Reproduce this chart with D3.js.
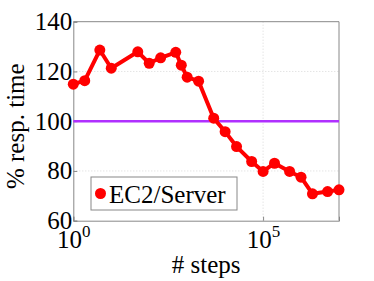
<!DOCTYPE html>
<html>
<head>
<meta charset="utf-8">
<script src="https://cdn.jsdelivr.net/npm/d3@7"></script>
<style>
  body { margin: 0; background: #fff; }
</style>
</head>
<body>
<script>
const steps = [1, 2, 5, 10, 50, 100, 200, 500, 700, 1000, 2000, 5000, 1e4, 2e4, 5e4, 1e5, 2e5, 5e5, 1e6, 2e6, 5e6, 1e7];
const respTime = [114.9, 116.3, 128.6, 121.3, 127.9, 123.3, 125.5, 127.7, 122.5, 117.7, 116.1, 101.2, 95.8, 89.8, 83.8, 79.8, 83.1, 79.8, 77.5, 70.8, 71.7, 72.4];
const baseline = 100;
const yTicks = [60, 80, 100, 120, 140];
const xTicks = [1, 1e5];
const xTickExp = ["0", "5"];
const seriesName = "EC2/Server";

const serif = "Liberation Serif";
const width = 374, height = 281;
const margin = {left: 73.3, right: 35, top: 21.7, bottom: 60.3};

const x = d3.scaleLog().domain([1, 1e7]).range([margin.left, width - margin.right]);
const y = d3.scaleLinear().domain([60, 140]).range([height - margin.bottom, margin.top]);

const svg = d3.select("body").append("svg")
  .attr("width", width)
  .attr("height", height);

// grid
svg.append("g").selectAll("line")
  .data(yTicks.slice(1, -1))
  .enter().append("line")
  .attr("x1", x.range()[0]).attr("x2", x.range()[1])
  .attr("y1", d => y(d)).attr("y2", d => y(d))
  .attr("stroke", "#d8d8d8").attr("stroke-dasharray", "1,2");

svg.append("g").selectAll("line")
  .data(xTicks.slice(1))
  .enter().append("line")
  .attr("x1", d => x(d)).attr("x2", d => x(d))
  .attr("y1", y.range()[0]).attr("y2", y.range()[1])
  .attr("stroke", "#d8d8d8").attr("stroke-dasharray", "1,2");

// axes
const yAxis = d3.axisLeft(y).tickValues(yTicks).tickSize(-4).tickPadding(3).tickFormat(d3.format("d"));
const gy = svg.append("g")
  .attr("transform", `translate(${margin.left},0)`)
  .call(yAxis)
  .attr("font-family", serif)
  .attr("font-size", 25);
gy.select(".domain").attr("stroke", "#888");
gy.selectAll(".tick line").attr("stroke", "#888");
gy.selectAll(".tick text").attr("x", -1);

const xAxis = d3.axisBottom(x).tickValues(xTicks).tickSize(-4).tickFormat("");
const gx = svg.append("g")
  .attr("transform", `translate(0,${height - margin.bottom})`)
  .call(xAxis)
  .attr("font-family", serif)
  .attr("font-size", 25);
gx.select(".domain").attr("stroke", "#888");
gx.selectAll(".tick line").attr("stroke", "#888");
gx.selectAll(".tick").append("text")
  .attr("y", 27)
  .attr("fill", "#000")
  .attr("text-anchor", "middle")
  .each(function(d, i) {
    const t = d3.select(this);
    t.append("tspan").text("10");
    t.append("tspan").attr("dy", -11).attr("font-size", 17).text(xTickExp[i]);
  });

// top and right frame
svg.append("line")
  .attr("x1", x.range()[0]).attr("x2", x.range()[1])
  .attr("y1", y.range()[1]).attr("y2", y.range()[1])
  .attr("stroke", "#888");
svg.append("line")
  .attr("x1", x.range()[1]).attr("x2", x.range()[1])
  .attr("y1", y.range()[0]).attr("y2", y.range()[1])
  .attr("stroke", "#888");

// baseline
svg.append("line")
  .attr("x1", x.range()[0]).attr("x2", x.range()[1])
  .attr("y1", y(baseline)).attr("y2", y(baseline))
  .attr("stroke", "#b030ff").attr("stroke-width", 2.5);

// series
const line = d3.line().x((d, i) => x(steps[i])).y(d => y(d));
svg.append("path")
  .datum(respTime)
  .attr("d", line)
  .attr("fill", "none")
  .attr("stroke", "#ff0000")
  .attr("stroke-width", 4)
  .attr("stroke-linejoin", "round");

svg.append("g").selectAll("circle")
  .data(respTime)
  .enter().append("circle")
  .attr("cx", (d, i) => x(steps[i]))
  .attr("cy", d => y(d))
  .attr("r", 5.5)
  .attr("fill", "#ff0000");

// legend
const lg = svg.append("g").attr("transform", "translate(91,177)");
lg.append("rect")
  .attr("width", 146).attr("height", 33)
  .attr("fill", "#fff").attr("stroke", "#888");
lg.append("circle").attr("cx", 9.5).attr("cy", 16.5).attr("r", 5.5).attr("fill", "#ff0000");
lg.append("text")
  .attr("x", 18).attr("y", 25.5)
  .attr("font-family", serif)
  .attr("font-size", 25)
  .text(seriesName);

// axis labels
svg.append("text")
  .attr("x", (x.range()[0] + x.range()[1]) / 2)
  .attr("y", 273)
  .attr("text-anchor", "middle")
  .attr("font-family", serif)
  .attr("font-size", 25)
  .text("# steps");

svg.append("text")
  .attr("transform", `translate(24,${(y.range()[0] + y.range()[1]) / 2 + 5}) rotate(-90)`)
  .attr("text-anchor", "middle")
  .attr("font-family", serif)
  .attr("font-size", 25)
  .text("% resp. time");
</script>
</body>
</html>
